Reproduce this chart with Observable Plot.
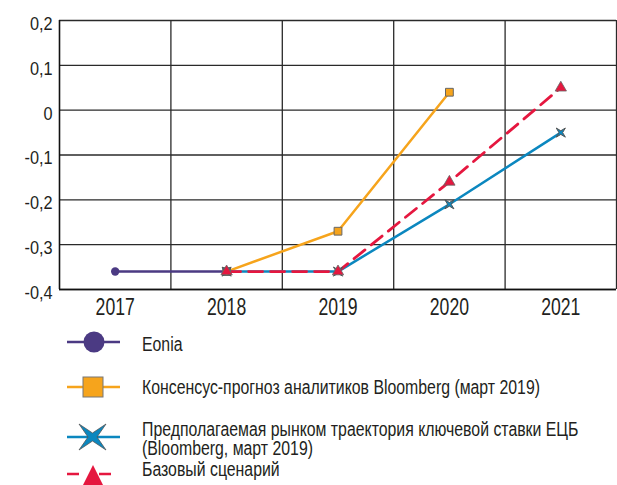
<!DOCTYPE html>
<html><head><meta charset="utf-8">
<script src="https://cdn.jsdelivr.net/npm/d3@7"></script>
<script src="https://cdn.jsdelivr.net/npm/@observablehq/plot@0.6"></script>
<style>
body{margin:0;background:#fff;font-family:"Liberation Sans",Arial,sans-serif;color:#231f20;}
#wrap{position:relative;width:617px;height:485px;overflow:hidden;}
.leg{position:absolute;left:0;top:0;width:617px;}
.leg svg{position:absolute;left:62px;}
.leg .t{position:absolute;left:142px;font-size:20px;line-height:19px;white-space:nowrap;transform-origin:0 50%;}
</style></head><body>
<div id="wrap"><div id="chart"></div><div id="legend"></div></div>
<script>
const years = [2017, 2018, 2019, 2020, 2021];
const eonia = [-0.36, -0.36, null, null, null];
const consensus = [null, -0.36, -0.27, 0.04, null];
const market = [null, -0.36, -0.36, -0.21, -0.05];
const base = [null, -0.36, -0.36, -0.16, 0.05];
const yTicks = [-0.4, -0.3, -0.2, -0.1, 0, 0.1, 0.2];
const gridX = [2017.5, 2018.5, 2019.5, 2020.5];
const labels = {
  eonia: "Eonia",
  consensus: "Консенсус-прогноз аналитиков Bloomberg (март 2019)",
  market: "Предполагаемая рынком траектория ключевой ставки ЕЦБ<br>(Bloomberg, март 2019)",
  base: "Базовый сценарий"
};
const colors = {eonia: "#4b3a83", consensus: "#f6a41c", market: "#0b87bf", base: "#e5173f"};

const toRows = arr => years.map((y, i) => ({year: y, value: arr[i]})).filter(d => d.value != null);

const star4 = {
  draw(ctx, size) {
    const r = Math.sqrt(size / Math.PI) * 1.2, k = r * 0.4;
    ctx.moveTo(-r, -r); ctx.lineTo(0, -k); ctx.lineTo(r, -r); ctx.lineTo(k, 0);
    ctx.lineTo(r, r); ctx.lineTo(0, k); ctx.lineTo(-r, r); ctx.lineTo(-k, 0); ctx.closePath();
  }
};
const fmt = d => d === 0 ? "0" : d.toFixed(1).replace(".", ",");

const chart = Plot.plot({
  width: 617, height: 320,
  marginLeft: 59, marginRight: 1, marginTop: 20, marginBottom: 31,
  style: {fontFamily: "Liberation Sans, Arial, sans-serif", fontSize: "18px", color: "#231f20", background: "#fff"},
  x: {type: "linear", domain: [2016.5, 2021.5], ticks: years, tickFormat: d => String(d), tickSize: 0, tickPadding: 9, label: null},
  y: {domain: [-0.4, 0.2], ticks: yTicks, tickFormat: fmt, tickSize: 0, tickPadding: 7, label: null},
  marks: [
    Plot.ruleY(yTicks, {stroke: "#2a2a2a", strokeWidth: 1.3}),
    Plot.ruleX(gridX, {stroke: "#2a2a2a", strokeWidth: 1.3}),
    Plot.ruleX([2021.5], {stroke: "#2a2a2a", strokeWidth: 1.3}),
    Plot.ruleX([2016.5], {stroke: "#111", strokeWidth: 1.6}),
    Plot.ruleY([-0.4], {stroke: "#111", strokeWidth: 1.6}),
    Plot.line(toRows(eonia), {x: "year", y: "value", stroke: colors.eonia, strokeWidth: 2.5}),
    Plot.line(toRows(consensus), {x: "year", y: "value", stroke: colors.consensus, strokeWidth: 2.5}),
    Plot.line(toRows(market), {x: "year", y: "value", stroke: colors.market, strokeWidth: 2.5}),
    Plot.line(toRows(base), {x: "year", y: "value", stroke: colors.base, strokeWidth: 2.8, strokeDasharray: "14,8"}),
    Plot.dot(toRows(eonia), {x: "year", y: "value", symbol: "circle", r: 4.2, fill: colors.eonia, stroke: "none"}),
    Plot.dot(toRows(consensus), {x: "year", y: "value", symbol: "square", r: 4.4, fill: colors.consensus, stroke: "#666", strokeWidth: 1}),
    Plot.dot(toRows(market), {x: "year", y: "value", symbol: star4, r: 3.8, fill: colors.market, stroke: "#555", strokeWidth: 1}),
    Plot.dot(toRows(base), {x: "year", y: "value", symbol: "triangle", r: 4.2, fill: colors.base, stroke: "#666", strokeWidth: 0.8})
  ]
});
document.getElementById("chart").appendChild(chart);

// condensed look for tick labels
const xl = chart.querySelector("g[aria-label='x-axis tick label']");
const yl = chart.querySelector("g[aria-label='y-axis tick label']");
if (xl) {
  xl.setAttribute("font-size", "23.5");
  xl.querySelectorAll("text").forEach(t => t.setAttribute("transform", (t.getAttribute("transform") || "") + " scale(0.75,1)"));
}
if (yl) {
  yl.setAttribute("font-size", "18.5");
  yl.querySelectorAll("text").forEach(t => t.setAttribute("transform", (t.getAttribute("transform") || "") + " translate(0,3.5) scale(0.88,1)"));
}

// Legend
const legendItems = [
  {key: "eonia", cy: 342, ty: 335, sym: "circle"},
  {key: "consensus", cy: 387, ty: 378, sym: "square"},
  {key: "market", cy: 437, ty: 420, sym: "star"},
  {key: "base", cy: 474, ty: 460, sym: "triangle"}
];
const legend = document.getElementById("legend");
const texts = [];
for (const it of legendItems) {
  const c = colors[it.key];
  let s = "";
  if (it.sym === "circle") s = `<circle cx="32" cy="15" r="10.5" fill="${c}"/>`;
  if (it.sym === "square") s = `<rect x="21" y="5" width="20" height="20" fill="${c}" stroke="#777" stroke-width="1"/>`;
  if (it.sym === "star") s = `<path d="M17,2 L30.5,11 L44,2 L35,15 L44,28 L30.5,19 L17,28 L26,15 Z" fill="${c}" stroke="#555" stroke-width="0.8"/>`;
  if (it.sym === "triangle") s = `<path d="M31,6 L43,30 L19,30 Z" fill="${c}"/>`;
  const dash = it.key === "base" ? `stroke-dasharray="12,20"` : "";
  const item = document.createElement("div");
  item.className = "leg";
  item.innerHTML = `<svg width="62" height="30" style="top:${it.cy - 15}px"><line x1="5" x2="58" y1="15" y2="15" stroke="${c}" stroke-width="2.5" ${dash}/>${s}</svg><div class="t" style="top:${it.ty}px">${labels[it.key]}</div>`;
  legend.appendChild(item);
  texts.push(item.querySelector(".t"));
}
// condense legend text to the reference width (consensus line ≈ 398px wide)
const w = texts[1].getBoundingClientRect().width;
const sx = 398 / w;
texts.forEach(t => { t.style.transform = `scaleX(${sx})`; });
</script>
</body></html>
